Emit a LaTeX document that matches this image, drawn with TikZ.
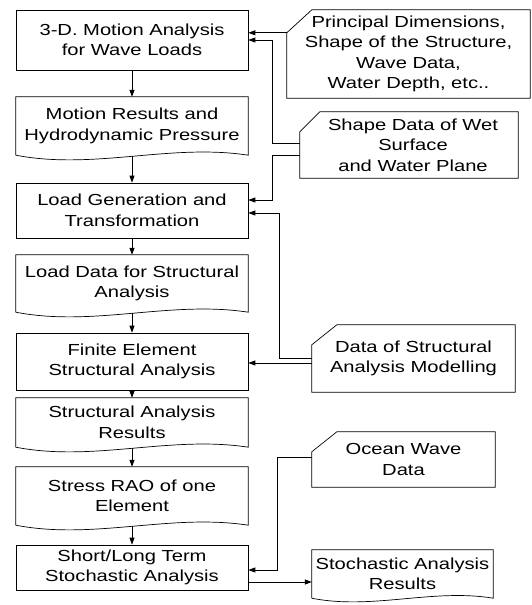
\documentclass[tikz,border=0pt]{standalone}
\usepackage{fontspec}
\setmainfont{Liberation Sans}[FakeStretch=1.26]
\usetikzlibrary{arrows.meta}
\begin{document}
\begin{tikzpicture}[x=1pt,y=-1pt,
  every node/.style={font=\fontsize{16}{20.5}\selectfont, align=center, inner sep=0pt},
  lbox/.style={minimum width=232pt},
  proc/.style={lbox, draw, line width=0.7pt},
  shp/.style={line width=0.7pt},
  arr/.style={line width=0.8pt, -{Triangle[length=7pt,width=5pt]}},
  ln/.style={line width=0.8pt}
]
\useasboundingbox (0,0) rectangle (531,605);

% left column
\node[proc, minimum height=60pt] (b1) at (132,40) {3-D. Motion Analysis\\for Wave Loads};
\node[lbox, minimum height=58pt] (b2) at (132,126) {Motion Results and\\Hydrodynamic Pressure};
\node[proc, minimum height=55pt] (b3) at (132,210.5) {Load Generation and\\Transformation};
\node[lbox, minimum height=57pt] (b4) at (132,283.5) {Load Data for Structural\\Analysis};
\node[proc, minimum height=57pt] (b5) at (132,361.5) {Finite Element\\Structural Analysis};
\node[lbox, minimum height=49pt] (b6) at (132,422.5) {Structural Analysis\\Results};
\node[lbox, minimum height=58pt] (b7) at (132,496) {Stress RAO of one\\Element};
\node[proc, minimum height=45pt] (b8) at (132,567.5) {Short/Long Term\\Stochastic Analysis};

% document outlines
\foreach \n in {b2,b4,b6,b7}{
  \draw[shp] (\n.south west) -- (\n.north west) -- (\n.north east) -- (\n.south east)
    .. controls +(-78,-12) and +(78,15) .. (\n.south west);
}

% right column
\node[minimum width=243pt, minimum height=88pt] (r1) at (408.5,54) {Principal Dimensions,\\Shape of the Structure,\\Wave Data,\\Water Depth, etc..};
\node[minimum width=218pt, minimum height=66pt] (r2) at (409,145) {\hspace*{8pt}Shape Data of Wet\\\hspace*{8pt}Surface\\\hspace*{8pt}and Water Plane};
\node[minimum width=203pt, minimum height=67pt] (r3) at (413.5,358.5) {Data of Structural\\Analysis Modelling};
\node[minimum width=183pt, minimum height=55pt] (r4) at (403.5,459.5) {Ocean Wave\\Data};
\node[minimum width=181pt, minimum height=48pt] (r5) at (402.5,574) {Stochastic Analysis\\Results};

% card outlines
\draw[shp] ([xshift=25pt]r1.north west) -- (r1.north east) -- (r1.south east) -- (r1.south west) -- ([yshift=-23pt]r1.north west) -- cycle;
\draw[shp] ([xshift=20pt]r2.north west) -- (r2.north east) -- (r2.south east) -- (r2.south west) -- ([yshift=-20pt]r2.north west) -- cycle;
\draw[shp] ([xshift=25pt]r3.north west) -- (r3.north east) -- (r3.south east) -- (r3.south west) -- ([yshift=-20pt]r3.north west) -- cycle;
\draw[shp] ([xshift=25pt]r4.north west) -- (r4.north east) -- (r4.south east) -- (r4.south west) -- ([yshift=-20pt]r4.north west) -- cycle;
\draw[shp] (r5.south west) -- (r5.north west) -- (r5.north east) -- (r5.south east)
    .. controls +(-60,-10) and +(60,12) .. (r5.south west);

% vertical flow
\draw[arr] (b1.south) -- (b2.north);
\draw[arr] ([yshift=-1pt]b2.south) -- (b3.north);
\draw[arr] (b3.south) -- (b4.north);
\draw[arr] ([yshift=-1pt]b4.south) -- (b5.north);
\draw[arr] (b5.south) -- (b6.north);
\draw[arr] ([yshift=-1pt]b6.south) -- (b7.north);
\draw[arr] ([yshift=-1pt]b7.south) -- (b8.north);

% side connectors
\coordinate (c1) at ([yshift=-23pt]r1.north west);
\draw[arr] (c1) -- (c1 -| b1.east);
\draw[arr] ([yshift=2pt]r2.west) -- ++(-27,0) |- (b1.east);
\draw[arr] ([yshift=-10pt]r2.west) -- ++(-27,0) |- ([yshift=10.5pt]b3.east);
\draw[arr] (r3.west) -- ++(-32,0) |- ([yshift=-2.5pt]b3.east);
\coordinate (c5) at ([yshift=-4.5pt]r3.west);
\draw[arr] (c5) -- (c5 -| b5.east);
\draw[arr] ([yshift=2.5pt]r4.west) -- ++(-34,0) |- ([yshift=-2.5pt]b8.east);
\coordinate (c7) at ([yshift=-14.5pt]b8.east);
\draw[arr] (c7) -- (c7 -| r5.west);
\end{tikzpicture}
\end{document}
